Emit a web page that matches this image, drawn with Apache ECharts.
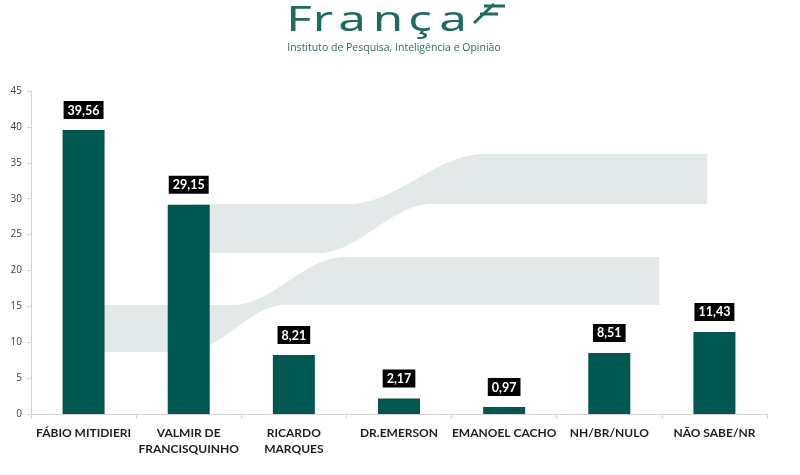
<!DOCTYPE html>
<html>
<head>
<meta charset="utf-8">
<script src="https://cdn.jsdelivr.net/npm/echarts@6/dist/echarts.min.js"></script>
<style>
html,body{margin:0;padding:0;background:#fff;}
#chart{width:800px;height:475px;}
</style>
</head>
<body>
<div id="chart"></div>
<script>
var categories = ['FÁBIO MITIDIERI', 'VALMIR DE\nFRANCISQUINHO', 'RICARDO\nMARQUES', 'DR.EMERSON', 'EMANOEL CACHO', 'NH/BR/NULO', 'NÃO SABE/NR'];
var values = [39.56, 29.15, 8.21, 2.17, 0.97, 8.51, 11.43];
var yMin = 0, yMax = 45, yStep = 5;

var teal = '#00574f';
var bandColor = '#e2e9e8';
var logoColor = '#1d6c62';

function ease(x, xa, xb, ya, yb) {
  if (x <= xa) return ya;
  if (x >= xb) return yb;
  var t = (x - xa) / (xb - xa);
  return ya + (yb - ya) * (1 - Math.cos(Math.PI * t)) / 2;
}
function band(xl, xr, top, bot) {
  var pts = [], x;
  for (x = xl; x < xr; x += 2) pts.push([x, ease(x, top[0], top[1], top[2], top[3])]);
  pts.push([xr, top[3]]);
  pts.push([xr, bot[3]]);
  for (x = xr - 2; x >= xl; x -= 2) pts.push([x, ease(x, bot[0], bot[1], bot[2], bot[3])]);
  return pts;
}
var upperBand = band(190, 707, [348, 485, 204, 154], [318, 432, 253, 204]);
var lowerBand = band(90, 659, [232, 345, 305, 257], [185, 285, 352, 305]);

var logoLetters = [['F', 299], ['r', 323], ['a', 352], ['n', 388], ['ç', 420], ['a', 453]];
var logoEls = logoLetters.map(function (l) {
  return {
    type: 'text', x: l[1], y: 21, z: 10, scaleX: 1.45, scaleY: 1,
    style: { text: l[0], fill: logoColor, fontSize: 34, fontFamily: 'Noto Sans', fontWeight: 'normal', align: 'center', verticalAlign: 'middle' }
  };
});

var chart = echarts.init(document.getElementById('chart'));
chart.setOption({
  animation: false,
  backgroundColor: '#ffffff',
  graphic: [
    { type: 'polygon', z: -1, shape: { points: upperBand }, style: { fill: bandColor } },
    { type: 'polygon', z: -1, shape: { points: lowerBand }, style: { fill: bandColor } },
    { type: 'line', shape: { x1: 484, y1: 6, x2: 505, y2: 6 }, style: { stroke: logoColor, lineWidth: 3 } },
    { type: 'line', shape: { x1: 480, y1: 14, x2: 498, y2: 14 }, style: { stroke: logoColor, lineWidth: 3 } },
    { type: 'line', shape: { x1: 494, y1: 4, x2: 474, y2: 23 }, style: { stroke: logoColor, lineWidth: 3 } },
    {
      type: 'text', x: 394, y: 48, z: 10,
      style: { text: 'Instituto de Pesquisa, Inteligência e Opinião', fill: '#2f6a62', fontSize: 10.5, fontFamily: 'Open Sans', align: 'center', verticalAlign: 'middle' }
    }
  ].concat(logoEls),
  grid: { left: 31, right: 33, top: 91, bottom: 61, containLabel: false },
  xAxis: {
    type: 'category',
    data: categories,
    axisLine: { lineStyle: { color: '#d4d4d4', width: 1 } },
    axisTick: { show: true, length: 5, lineStyle: { color: '#d4d4d4' } },
    axisLabel: {
      interval: 0, margin: 11, color: '#1e1e1e',
      fontFamily: 'Lato', fontWeight: 'bold', fontSize: 12, lineHeight: 16
    }
  },
  yAxis: {
    type: 'value', min: yMin, max: yMax, interval: yStep,
    splitLine: { show: false },
    axisLine: { show: true, lineStyle: { color: '#d4d4d4', width: 1 } },
    axisTick: { show: true, length: 4, lineStyle: { color: '#d4d4d4' } },
    axisLabel: { color: '#404040', fontSize: 10, fontFamily: 'Open Sans', margin: 9 }
  },
  series: [{
    type: 'bar',
    data: values,
    barWidth: 42,
    z: 5,
    itemStyle: { color: teal },
    label: {
      show: true, position: 'top', distance: 11,
      formatter: function (p) { return p.value.toFixed(2).replace('.', ','); },
      color: '#ffffff', backgroundColor: '#000000',
      fontFamily: 'Lato', fontWeight: 'bold', fontSize: 12.5,
      padding: [3, 4, 2, 4]
    }
  }]
});
</script>
</body>
</html>
